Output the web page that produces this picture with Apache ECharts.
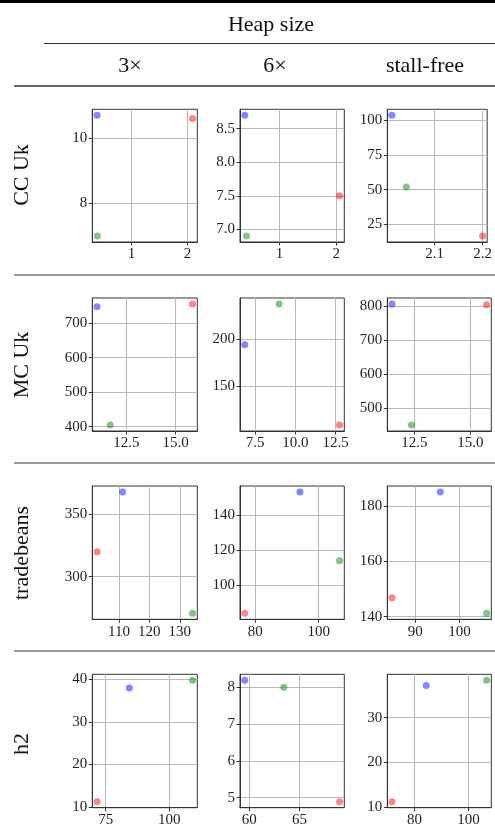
<!DOCTYPE html>
<html><head><meta charset="utf-8">
<script src="https://cdn.jsdelivr.net/npm/echarts@6/dist/echarts.min.js"></script>
<style>html,body{margin:0;padding:0;background:#fff}#c{width:495px;height:836px}</style>
</head><body><div id="c"></div>
<script>
const columns = ['3×', '6×', 'stall-free'];
const rows = ['CC Uk', 'MC Uk', 'tradebeans', 'h2'];
// [x, y] per column (3×, 6×, stall-free)
const ccUkBlue  = [[0.385, 10.69], [0.39, 8.70], [2.011, 103.3]];
const ccUkRed   = [[2.09, 10.59], [2.06, 7.50], [2.200, 16.7]];
const ccUkGreen = [[0.39, 7.00], [0.42, 6.90], [2.041, 51.8]];
const mcUkBlue  = [[11.01, 748.4], [6.86, 194.2], [11.50, 806.8]];
const mcUkRed   = [[15.86, 756.0], [12.75, 108.5], [15.73, 804.7]];
const mcUkGreen = [[11.68, 404.7], [9.00, 237.8], [12.37, 451.8]];
const tradebeansBlue  = [[111.2, 367.3], [94.1, 153.1], [95.64, 184.95]];
const tradebeansRed   = [[102.8, 319.7], [76.7, 84.0], [84.74, 146.8]];
const tradebeansGreen = [[134.2, 270.8], [106.6, 113.9], [106.1, 141.2]];
const h2Blue  = [[84.3, 37.9], [59.54, 8.19], [84.36, 37.2]];
const h2Red   = [[71.6, 11.3], [69.0, 4.89], [71.7, 11.2]];
const h2Green = [[109.2, 39.7], [63.44, 8.00], [106.7, 38.35]];
// tick steps per row / column
const xTickStep = [[1, 1, 0.1], [2.5, 2.5, 2.5], [10, 20, 10], [25, 5, 20]];
const yTickStep = [[2, 0.5, 25], [100, 50, 100], [50, 20, 20], [10, 1, 10]];

const rowData = [
  [ccUkBlue, ccUkRed, ccUkGreen],
  [mcUkBlue, mcUkRed, mcUkGreen],
  [tradebeansBlue, tradebeansRed, tradebeansGreen],
  [h2Blue, h2Red, h2Green]
];
const colors = ['rgba(0,0,255,0.6)', 'rgba(255,0,0,0.6)', 'rgba(0,128,0,0.6)'];

const colLeft = [92.3, 240, 387.3];
const colWidth = [105, 104.3, 104];
const rowTop = [109.3, 298, 486, 674.3];
const rowHeight = [132.7, 133, 133.3, 133.4];

const serif = 'Liberation Serif';

function decimals(step) {
  const s = String(step);
  return s.indexOf('.') >= 0 ? s.length - s.indexOf('.') - 1 : 0;
}
function ticksFor(lo, hi, step) {
  const out = [];
  const d = decimals(step);
  for (let k = Math.ceil(lo / step - 1e-9); k * step <= hi + 1e-9; k++) out.push(+(k * step).toFixed(d));
  return out;
}
function mkAxis(idx, lo, hi, step) {
  const d = decimals(step);
  const vals = ticksFor(lo, hi, step);
  return {
    type: 'value', gridIndex: idx, min: lo, max: hi,
    minInterval: step, maxInterval: step, splitNumber: 5,
    axisLine: { show: true, lineStyle: { color: '#333', width: 1 } },
    axisTick: { show: true, length: 3.5, customValues: vals, lineStyle: { color: '#333', width: 1 } },
    axisLabel: {
      customValues: vals, fontFamily: serif, fontSize: 15, color: '#222', margin: 5,
      hideOverlap: false, showMinLabel: true, showMaxLabel: true,
      formatter: v => Number(v).toFixed(d)
    },
    splitLine: { show: true, lineStyle: { color: '#b8b8b8', width: 1 } }
  };
}

const grids = [], xAxes = [], yAxes = [], series = [];
for (let r = 0; r < rows.length; r++) {
  for (let c = 0; c < columns.length; c++) {
    const idx = r * 3 + c;
    const pts = rowData[r].map(arr => arr[c]);
    const xs = pts.map(p => p[0]), ys = pts.map(p => p[1]);
    const x0 = Math.min(...xs), x1 = Math.max(...xs);
    const y0 = Math.min(...ys), y1 = Math.max(...ys);
    const mx = (x1 - x0) * 0.05, my = (y1 - y0) * 0.05;
    grids.push({ left: colLeft[c], top: rowTop[r], width: colWidth[c], height: rowHeight[r],
      show: true, borderColor: '#333', borderWidth: 1, backgroundColor: '#fff', containLabel: false });
    xAxes.push(Object.assign(mkAxis(idx, x0 - mx, x1 + mx, xTickStep[r][c]), { position: 'bottom' }));
    yAxes.push(Object.assign(mkAxis(idx, y0 - my, y1 + my, yTickStep[r][c]), { position: 'left' }));
    rowData[r].forEach((arr, k) => {
      series.push({
        type: 'scatter', xAxisIndex: idx, yAxisIndex: idx, symbol: 'circle', symbolSize: 7,
        itemStyle: { color: colors[k] }, data: [arr[c]], silent: true, animation: false
      });
    });
  }
}

const hdrColor = '#111';
const hdrText = t => ({ text: t, fontFamily: serif, fontSize: 22, fill: hdrColor, align: 'center', verticalAlign: 'middle' });
const graphic = [
  { type: 'rect', shape: { x: 0, y: 0, width: 495, height: 3 }, style: { fill: '#000' } },
  { type: 'line', shape: { x1: 44, y1: 43.5, x2: 495, y2: 43.5 }, style: { stroke: '#333', lineWidth: 1 } },
  { type: 'line', shape: { x1: 14, y1: 86, x2: 495, y2: 86 }, style: { stroke: '#333', lineWidth: 1.6 } },
  { type: 'text', x: 271, y: 25, style: hdrText('Heap size') }
];
const colCenters = [130, 275, 425];
columns.forEach((t, i) => graphic.push({ type: 'text', x: colCenters[i], y: 66, style: hdrText(t) }));
[275, 463, 651].forEach(y => graphic.push({ type: 'line', shape: { x1: 14, y1: y, x2: 495, y2: y }, style: { stroke: '#333', lineWidth: 1 } }));
const rowCenters = [175, 365, 553, 744];
rows.forEach((t, i) => graphic.push({ type: 'text', x: 22, y: rowCenters[i], rotation: Math.PI / 2, style: hdrText(t) }));

const chart = echarts.init(document.getElementById('c'), null, { renderer: 'canvas' });
chart.setOption({ animation: false, backgroundColor: '#fff', grid: grids, xAxis: xAxes, yAxis: yAxes, series, graphic });
</script></body></html>
